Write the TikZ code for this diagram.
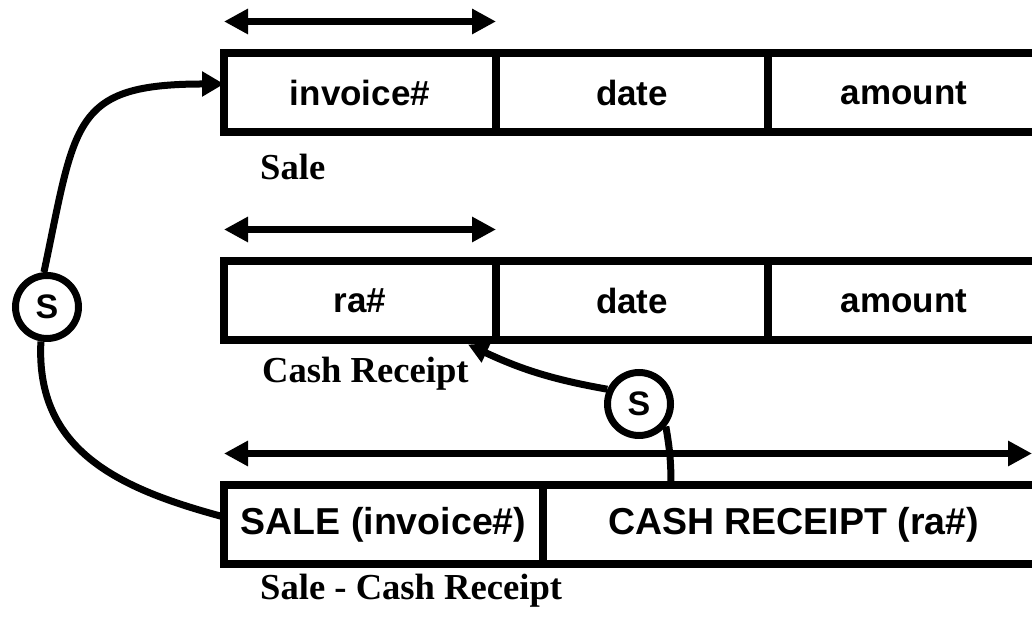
\documentclass[tikz,border=0pt]{standalone}
\usepackage{fontspec}
\setmainfont{Liberation Serif}
\setsansfont{Liberation Sans}
\usetikzlibrary{arrows.meta}

\begin{document}
\begin{tikzpicture}[x=1pt, y=1pt,
  cell/.style={draw, line width=8pt, minimum height=79pt, inner sep=0pt, outer sep=0pt,
    font=\sffamily\bfseries\fontsize{35}{40}\selectfont},
  keycell/.style={cell, font=\sffamily\bfseries\fontsize{37.5}{42}\selectfont},
  tag/.style={anchor=base west, inner sep=0pt, font=\bfseries\fontsize{36.6}{42}\selectfont},
  span/.style={line width=7pt, {Triangle[length=24pt,width=24pt]}-{Triangle[length=24pt,width=24pt]}},
  link/.style={line width=7pt},
  sbubble/.style={circle, draw, line width=7pt, minimum size=63pt, inner sep=0pt, fill=white,
    font=\sffamily\bfseries\fontsize{34}{38}\selectfont}]

  \useasboundingbox (0,0) rectangle (1032,617);
  \coordinate (rightedge) at (1032,0);

  %%%%%%%%%%%%%%%%%%%%%%%%%%%%%%
  % Sale record                %
  %%%%%%%%%%%%%%%%%%%%%%%%%%%%%%
  \node[cell, minimum width=272pt] (inv) at (360,524) {invoice\#};
  \node[cell, minimum width=272pt] (sdate) at (632,524) {date};
  \node[cell, minimum width=272pt] (samt) at (904,524) {amount};
  \draw[span] ([yshift=32pt]inv.north west) -- ([yshift=32pt]inv.north east);
  \node[tag] (lsale) at (260,437) {Sale};

  %%%%%%%%%%%%%%%%%%%%%%%%%%%%%%
  % Cash receipt record        %
  %%%%%%%%%%%%%%%%%%%%%%%%%%%%%%
  \node[cell, minimum width=272pt] (ra) at (360,316) {ra\#};
  \node[cell, minimum width=272pt] (cdate) at (632,316) {date};
  \node[cell, minimum width=272pt] (camt) at (904,316) {amount};
  \draw[span] ([yshift=32pt]ra.north west) -- ([yshift=32pt]ra.north east);
  \node[tag] (lcash) at (262,234) {Cash Receipt};

  %%%%%%%%%%%%%%%%%%%%%%%%%%%%%%
  % Link record                %
  %%%%%%%%%%%%%%%%%%%%%%%%%%%%%%
  \node[keycell, minimum width=319pt] (sk) at (383.5,92) {SALE (invoice\#)};
  \node[keycell, minimum width=501pt] (ck) at (793.5,92) {CASH RECEIPT (ra\#)};
  \coordinate (spanstart) at ([yshift=32pt]sk.north west);
  \coordinate (spanend) at (spanstart -| rightedge);
  \draw[span] (spanstart) -- (spanend);
  \node[tag] (llink) at (260,17) {Sale - Cash Receipt};

  % subset references
  \node[sbubble] (sone) at (47,310) {S};
  \node[sbubble] (stwo) at (639,213) {S};
  \draw[link] ([yshift=8pt]sk.west) to[out=165, in=-93, looseness=1.1] (sone.-100);
  \draw[link, -{Triangle[length=22pt,width=24pt]}] (sone.95) to[out=78, in=180, looseness=1.5] ([yshift=9pt]inv.west);
  \draw[link] ([xshift=128pt]ck.north west) to[out=90, in=-80] (stwo.-40);
  \draw[link, -{Triangle[length=20pt,width=20pt]}] (stwo.155) to[out=170, in=-25] ([xshift=-28pt, yshift=-4pt]ra.south east);

\end{tikzpicture}
\end{document}
